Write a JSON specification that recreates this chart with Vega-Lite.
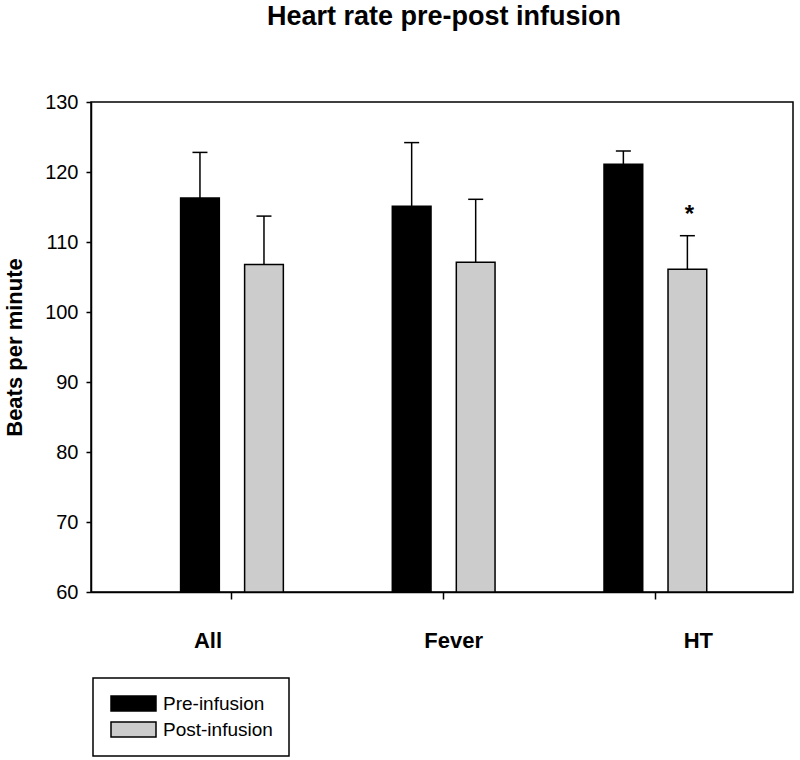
{
  "$schema": "https://vega.github.io/schema/vega-lite/v6.json",
  "autosize": {"type": "none"},
  "padding": {"left": 91, "top": 102, "right": 7, "bottom": 168},
  "width": 702,
  "height": 490,
  "background": "white",
  "title": {
    "text": "Heart rate pre-post infusion",
    "font": "Liberation Sans",
    "fontSize": 27,
    "fontWeight": "bold",
    "color": "black",
    "anchor": "middle",
    "frame": "group",
    "baseline": "alphabetic",
    "offset": 40,
    "dx": 2
  },
  "config": {
    "view": {"stroke": "black", "strokeWidth": 1.5},
    "font": "Liberation Sans",
    "legend": {"strokeWidth": 1.5}
  },
  "datasets": {
    "bars": [
      {"group": "All", "phase": "Pre-infusion", "mean": 116.3, "upper": 122.8},
      {"group": "All", "phase": "Post-infusion", "mean": 106.8, "upper": 113.7},
      {"group": "Fever", "phase": "Pre-infusion", "mean": 115.1, "upper": 124.2},
      {"group": "Fever", "phase": "Post-infusion", "mean": 107.1, "upper": 116.1},
      {"group": "HT", "phase": "Pre-infusion", "mean": 121.1, "upper": 123.0},
      {"group": "HT", "phase": "Post-infusion", "mean": 106.1, "upper": 110.9}
    ],
    "marks": [
      {"group": "HT", "phase": "Post-infusion", "pos": 112.9, "label": "*"}
    ]
  },
  "layer": [
    {
      "data": {"name": "bars"},
      "mark": {"type": "bar", "stroke": "black", "strokeWidth": 1.5},
      "encoding": {
        "x": {
          "field": "group",
          "type": "nominal",
          "sort": ["All", "Fever", "HT"],
          "scale": {"paddingInner": 0, "paddingOuter": 0.158, "align": 0.525},
          "axis": {
            "title": null,
            "labelAngle": 0,
            "labelFont": "Liberation Sans",
            "labelFontSize": 22,
            "labelFontWeight": "bold",
            "labelColor": "black",
            "labelPadding": 31,
            "labelOffset": {"expr": "datum.value === 'All' ? -24 : (datum.value === 'Fever' ? 10 : 43)"},
            "tickSize": 7,
            "tickColor": "black",
            "tickWidth": 1.5,
            "domainColor": "black",
            "domainWidth": 1.5
          }
        },
        "xOffset": {
          "field": "phase",
          "type": "nominal",
          "sort": ["Pre-infusion", "Post-infusion"],
          "scale": {"paddingInner": 0.395, "paddingOuter": 0.851}
        },
        "y": {
          "field": "mean",
          "type": "quantitative",
          "scale": {"domain": [60, 130], "nice": false, "zero": false},
          "axis": {
            "title": "Beats per minute",
            "titleFont": "Liberation Sans",
            "titleFontSize": 22,
            "titleFontWeight": "bold",
            "titleColor": "black",
            "titlePadding": 18,
            "values": [60, 70, 80, 90, 100, 110, 120, 130],
            "labelFont": "Liberation Sans",
            "labelFontSize": 20,
            "labelColor": "black",
            "labelPadding": 8,
            "tickSize": 5,
            "tickColor": "black",
            "tickWidth": 1.5,
            "domainColor": "black",
            "domainWidth": 1.5,
            "grid": false
          }
        },
        "y2": {"datum": 60},
        "fill": {
          "field": "phase",
          "type": "nominal",
          "scale": {"domain": ["Pre-infusion", "Post-infusion"], "range": ["#000000", "#cccccc"]},
          "legend": {
            "title": null,
            "orient": "none",
            "legendX": 2,
            "legendY": 576,
            "padding": 16,
            "strokeColor": "black",
            "symbolType": "M-1,-1H5V1H-1Z",
            "symbolSize": 225,
            "symbolStrokeColor": "black",
            "symbolStrokeWidth": 1.5,
            "symbolOpacity": 1,
            "labelOffset": 35,
            "labelFont": "Liberation Sans",
            "labelFontSize": 19,
            "labelColor": "black",
            "labelLimit": 300,
            "rowPadding": 5
          }
        }
      }
    },
    {
      "data": {"name": "bars"},
      "mark": {"type": "rule", "stroke": "black", "strokeWidth": 1.5},
      "encoding": {
        "x": {"field": "group", "type": "nominal", "sort": ["All", "Fever", "HT"]},
        "xOffset": {"field": "phase", "type": "nominal", "sort": ["Pre-infusion", "Post-infusion"]},
        "y": {"field": "mean", "type": "quantitative"},
        "y2": {"field": "upper"}
      }
    },
    {
      "data": {"name": "bars"},
      "mark": {"type": "tick", "color": "black", "size": 15, "thickness": 1.5, "opacity": 1, "orient": "horizontal"},
      "encoding": {
        "x": {"field": "group", "type": "nominal", "sort": ["All", "Fever", "HT"]},
        "xOffset": {"field": "phase", "type": "nominal", "sort": ["Pre-infusion", "Post-infusion"]},
        "y": {"field": "upper", "type": "quantitative"}
      }
    },
    {
      "data": {"name": "marks"},
      "mark": {"type": "text", "font": "Liberation Sans", "fontSize": 24, "fontWeight": "bold", "color": "black", "baseline": "alphabetic", "align": "center", "dx": 2},
      "encoding": {
        "x": {"field": "group", "type": "nominal", "sort": ["All", "Fever", "HT"]},
        "xOffset": {"field": "phase", "type": "nominal", "sort": ["Pre-infusion", "Post-infusion"]},
        "y": {"field": "pos", "type": "quantitative"},
        "text": {"field": "label"}
      }
    }
  ]
}
